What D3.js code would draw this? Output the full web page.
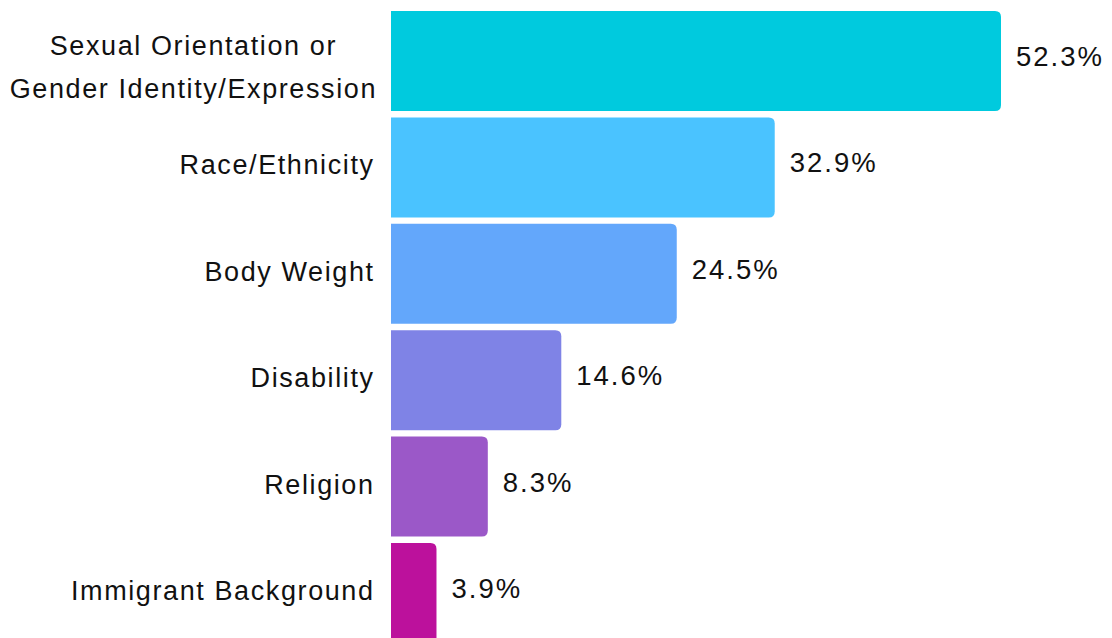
<!DOCTYPE html>
<html>
<head>
<meta charset="utf-8">
<script src="https://cdn.jsdelivr.net/npm/d3@7/dist/d3.min.js"></script>
<style>
  html, body { margin: 0; padding: 0; background: #fff; }
  svg { display: block; }
  text { font-family: "Liberation Sans", Arial, Helvetica, sans-serif; fill: #111; }
</style>
</head>
<body>
<svg id="chart" width="1112" height="638"></svg>
<script>
// Share of reported bias, by category (%)
const categories = [
  ["Sexual Orientation or", "Gender Identity/Expression"],
  ["Race/Ethnicity"],
  ["Body Weight"],
  ["Disability"],
  ["Religion"],
  ["Immigrant Background"]
];
const values = [52.3, 32.9, 24.5, 14.6, 8.3, 3.9];
const colors = ["#00CADE", "#4AC3FF", "#63A7FB", "#7F83E6", "#9B58C8", "#BC119C"];

const svg = d3.select("#chart");
const left = 391;
const labelX = 373;
const spacing = 1.6;
const keys = categories.map((c, i) => i);

const x = d3.scaleLinear().domain([0, 52.3]).range([left, 1001]);
const y = d3.scaleBand().domain(keys).range([11, 643]).paddingInner(0.06).paddingOuter(0);
const mid = i => y(i) + y.bandwidth() / 2;

const r = 6;
// Bars with only the right-hand corners rounded
function barPath(i) {
  const x0 = x(0), x1 = x(values[i]), y0 = y(i), y1 = y(i) + y.bandwidth();
  const rr = Math.min(r, (x1 - x0) / 2);
  return `M${x0},${y0}H${x1 - rr}Q${x1},${y0} ${x1},${y0 + rr}V${y1 - rr}Q${x1},${y1} ${x1 - rr},${y1}H${x0}Z`;
}

svg.append("g").selectAll("path")
  .data(keys)
  .join("path")
  .attr("d", barPath)
  .attr("fill", i => colors[i]);

// Category labels: single lines right-aligned, wrapped labels centred as a block
const lh = 43;
svg.append("g").selectAll("text")
  .data(keys)
  .join("text")
  .attr("font-size", 27)
  .attr("letter-spacing", spacing)
  .each(function(i) {
    const lines = categories[i];
    const multi = lines.length > 1;
    const base = multi ? mid(i) - 6 : mid(i) + 7;
    const t = d3.select(this).attr("text-anchor", multi ? "middle" : "end");
    const spans = t.selectAll("tspan")
      .data(lines)
      .join("tspan")
      .attr("y", (d, k) => base + k * lh)
      .text(d => d);
    if (multi) {
      const widest = d3.max(spans.nodes(), n => n.getComputedTextLength());
      spans.attr("x", labelX + 4 - widest / 2);
    } else {
      spans.attr("x", labelX + spacing);
    }
  });

// Value labels
svg.append("g").selectAll("text")
  .data(keys)
  .join("text")
  .attr("font-size", 27.5)
  .attr("letter-spacing", 2)
  .attr("x", i => x(values[i]) + 15)
  .attr("y", i => mid(i) + 5)
  .text(i => values[i].toFixed(1) + "%");
</script>
</body>
</html>
